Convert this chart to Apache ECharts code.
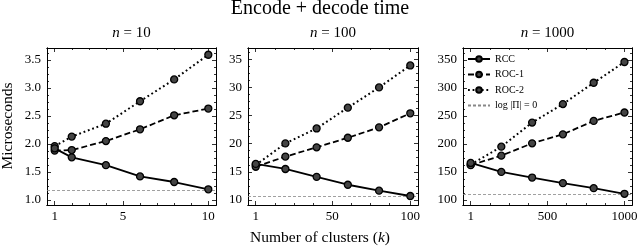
<!DOCTYPE html>
<html>
<head>
<meta charset="utf-8">
<script src="https://cdn.jsdelivr.net/npm/echarts@6/dist/echarts.min.js"></script>
<style>
html, body { margin: 0; padding: 0; background: #fff; }
#chart { width: 640px; height: 250px; }
</style>
</head>
<body>
<div id="chart"></div>
<script>
// number of clusters (k) for each panel
var k10 = [1, 2, 4, 6, 8, 10];
var k100 = [1, 20, 40, 60, 80, 100];
var k1000 = [1, 200, 400, 600, 800, 1000];

// n = 10
var rcc10 = [1.92, 1.76, 1.62, 1.42, 1.32, 1.19];
var roc1_10 = [1.88, 1.89, 2.05, 2.26, 2.51, 2.63];
var roc2_10 = [1.96, 2.13, 2.36, 2.76, 3.15, 3.59];
var base10 = 1.18;

// n = 100
var rcc100 = [16.4, 15.5, 14.1, 12.7, 11.65, 10.7];
var roc1_100 = [15.9, 17.7, 19.35, 21.05, 22.9, 25.4];
var roc2_100 = [16.2, 20.05, 22.7, 26.4, 30.0, 33.9];
var base100 = 10.7;

// n = 1000
var rcc1000 = [166, 150, 140, 130, 121, 111];
var roc1_1000 = [162, 179, 201, 217, 241, 256];
var roc2_1000 = [163, 195, 238, 271, 309, 346];
var base1000 = 111;

// tick labels
var xTicks10 = [1, 5, 10];
var xTicks100 = [1, 50, 100];
var xTicks1000 = [1, 500, 1000];
var yTicks10 = [1.0, 1.5, 2.0, 2.5, 3.0, 3.5];
var yTicks100 = [10, 15, 20, 25, 30, 35];
var yTicks1000 = [100, 150, 200, 250, 300, 350];

var FONT = 'Liberation Serif';

// minor ticks like matplotlib AutoMinorLocator (4 divisions)
function minorTicks(lo, hi, majors) {
  var step = (majors[1] - majors[0]) / 4;
  var out = [];
  var k0 = Math.ceil((lo - majors[0]) / step - 1e-9);
  for (var k = k0; majors[0] + k * step <= hi + 1e-9; k++) {
    var v = +(majors[0] + k * step).toFixed(6);
    var isMajor = majors.some(function (m) { return Math.abs(m - v) < step * 0.2; });
    if (!isMajor) out.push(v);
  }
  return out;
}

var grids = [
  { left: 47, top: 48, width: 169, height: 157 },
  { left: 248, top: 48, width: 170, height: 157 },
  { left: 463, top: 48, width: 169, height: 157 }
];

var plain = function (v) { return String(v); };

var panels = [
  { n: '10', x: k10, xr: [0.55, 10.45], yr: [0.91, 3.71], xt: xTicks10, yt: yTicks10,
    rcc: rcc10, roc1: roc1_10, roc2: roc2_10, base: base10, fmt: function (v) { return v.toFixed(1); } },
  { n: '100', x: k100, xr: [-3.95, 104.95], yr: [9.1, 37.0], xt: xTicks100, yt: yTicks100,
    rcc: rcc100, roc1: roc1_100, roc2: roc2_100, base: base100, fmt: plain },
  { n: '1000', x: k1000, xr: [-48.95, 1048.95], yr: [91, 371], xt: xTicks1000, yt: yTicks1000,
    rcc: rcc1000, roc1: roc1_1000, roc2: roc2_1000, base: base1000, fmt: plain }
];

var xAxes = [], yAxes = [], series = [], graphics = [];

function axisSet(dim, g, lo, hi, majors, fmt) {
  var minors = minorTicks(lo, hi, majors);
  var sides = dim === 'x' ? ['bottom', 'top'] : ['left', 'right'];
  var list = [];
  [[majors, 4], [minors, 2]].forEach(function (tk, mi) {
    sides.forEach(function (side, si) {
      var ax = {
        type: 'value', gridIndex: g, min: lo, max: hi, position: side,
        splitLine: { show: false },
        axisLine: { show: true, onZero: false, lineStyle: { color: '#000', width: 1 } },
        axisTick: { show: true, inside: true, length: tk[1], customValues: tk[0],
          lineStyle: { color: '#000', width: 0.8 } },
        axisLabel: { show: false }
      };
      if (mi === 0 && si === 0) {
        ax.axisLabel = { show: true, customValues: majors, color: '#000',
          fontFamily: FONT, fontSize: 13, margin: dim === 'x' ? 5 : 6, formatter: fmt };
      }
      list.push(ax);
    });
  });
  return list;
}

var lineBase = { type: 'line', symbol: 'circle', symbolSize: 7,
  itemStyle: { color: '#444', borderColor: '#000', borderWidth: 1.3 } };

panels.forEach(function (p, g) {
  var xi = xAxes.length, yi = yAxes.length;
  xAxes = xAxes.concat(axisSet('x', g, p.xr[0], p.xr[1], p.xt, plain));
  yAxes = yAxes.concat(axisSet('y', g, p.yr[0], p.yr[1], p.yt, p.fmt));

  function pts(vals) { return p.x.map(function (k, i) { return [k, vals[i]]; }); }

  series.push(Object.assign({}, lineBase, { name: 'RCC', xAxisIndex: xi, yAxisIndex: yi, z: 5,
    data: pts(p.rcc), lineStyle: { color: '#000', width: 1.8, type: 'solid' } }));
  series.push(Object.assign({}, lineBase, { name: 'ROC-1', xAxisIndex: xi, yAxisIndex: yi, z: 4,
    data: pts(p.roc1), lineStyle: { color: '#000', width: 1.8, type: [6, 3] } }));
  series.push(Object.assign({}, lineBase, { name: 'ROC-2', xAxisIndex: xi, yAxisIndex: yi, z: 3,
    data: pts(p.roc2), lineStyle: { color: '#000', width: 2, type: [1.8, 2.8] } }));
  series.push({ type: 'line', name: 'log |Π| = 0', xAxisIndex: xi, yAxisIndex: yi, z: 1,
    symbol: 'none', data: [], itemStyle: { color: '#888' },
    lineStyle: { color: '#888', width: 0.8, type: [3, 2] },
    markLine: { silent: true, symbol: ['none', 'none'], label: { show: false },
      lineStyle: { color: '#888', width: 0.8, type: [3, 2] },
      data: [{ yAxis: p.base }] } });

  var gr = grids[g];
  graphics.push({ type: 'text', x: gr.left + gr.width / 2, y: 33,
    style: { text: '{i|n} = ' + p.n, textAlign: 'center', textVerticalAlign: 'middle',
      fontFamily: FONT, fontSize: 15, fill: '#000',
      rich: { i: { fontStyle: 'italic', fontFamily: FONT, fontSize: 15 } } } });
});

graphics.push({ type: 'text', x: 320, y: 9,
  style: { text: 'Encode + decode time', textAlign: 'center', textVerticalAlign: 'middle',
    fontFamily: FONT, fontSize: 20, fill: '#000' } });
graphics.push({ type: 'text', x: 320, y: 238,
  style: { text: 'Number of clusters ({i|k})', textAlign: 'center', textVerticalAlign: 'middle',
    fontFamily: FONT, fontSize: 15.5, fill: '#000',
    rich: { i: { fontStyle: 'italic', fontFamily: FONT, fontSize: 15.5 } } } });
graphics.push({ type: 'text', x: 8, y: 126, rotation: Math.PI / 2,
  style: { text: 'Microseconds', textAlign: 'center', textVerticalAlign: 'middle',
    fontFamily: FONT, fontSize: 15.5, fill: '#000' } });

var chart = echarts.init(document.getElementById('chart'), null, { renderer: 'canvas' });
chart.setOption({
  animation: false,
  backgroundColor: '#fff',
  grid: grids.map(function (gr) {
    return Object.assign({ containLabel: false, outerBoundsMode: 'none' }, gr);
  }),
  xAxis: xAxes,
  yAxis: yAxes,
  legend: {
    data: ['RCC', 'ROC-1', 'ROC-2',
      { name: 'log |Π| = 0', itemStyle: { opacity: 0 } }],
    orient: 'vertical', left: 467, top: 54, padding: 0,
    itemWidth: 22, itemHeight: 7, itemGap: 5.5,
    selectedMode: false,
    textStyle: { fontFamily: FONT, fontSize: 10, color: '#000' }
  },
  graphic: graphics,
  series: series
});
</script>
</body>
</html>
